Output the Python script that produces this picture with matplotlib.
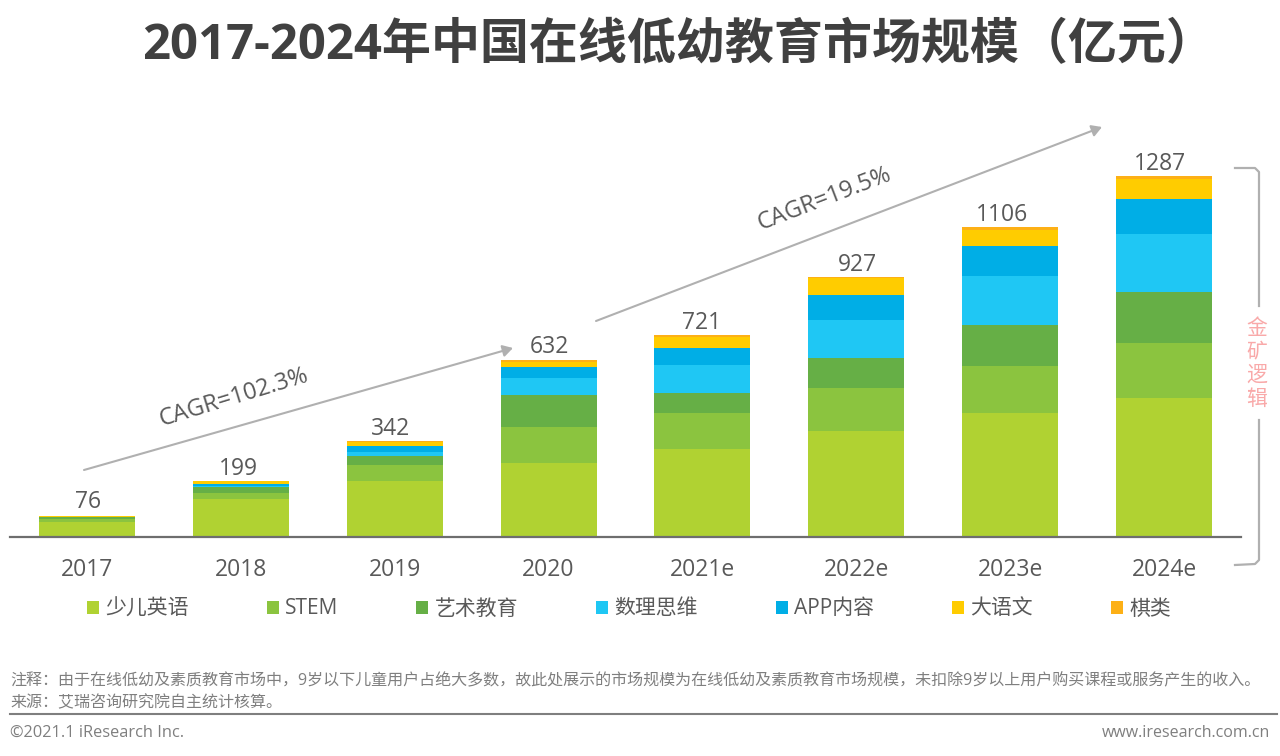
import matplotlib
matplotlib.use('Agg')
import matplotlib.pyplot as plt
import numpy as np

plt.rcParams['font.family'] = ['Open Sans', 'Noto Sans CJK SC', 'DejaVu Sans']

# Data (亿元)
years = ['2017', '2018', '2019', '2020', '2021e', '2022e', '2023e', '2024e']
totals = [76, 199, 342, 632, 721, 927, 1106, 1287]
english = [55, 135, 200, 264, 314, 378, 442, 496]
stem = [8, 22, 57, 128, 128, 153, 169, 196]
art = [8, 21, 32, 114, 71, 107, 145, 182]
math_think = [1, 5, 14, 61, 100, 135, 175, 207]
app = [1, 6, 21, 39, 62, 89, 105, 123]
chinese = [2, 9, 16, 18, 39, 61, 59, 73]
chess = [1, 1, 2, 8, 7, 4, 11, 10]

series = [english, stem, art, math_think, app, chinese, chess]
names = ['少儿英语', 'STEM', '艺术教育', '数理思维', 'APP内容', '大语文', '棋类']
colors = ['#B0D232', '#8BC43F', '#66AF46', '#1FC7F4', '#00AEE6', '#FFCC00', '#FDB016']

W, H = 1280, 756
GREY = '#595959'


def px(x, y):
    # picture pixels to figure fraction
    return x / W, 1 - y / H


fig = plt.figure(figsize=(12.8, 7.56), dpi=100)
ax = fig.add_axes([10 / W, (H - 537) / H, 1231 / W, 437 / H])

# Stacked bars
x = np.arange(len(years))
bottom = np.zeros(len(years))
for vals, name, col in zip(series, names, colors):
    ax.bar(x, vals, 0.624, bottom=bottom, color=col, label=name)
    bottom += np.array(vals)

# the total labels sit a little off centre in the original, offsets in pixels
label_dx = [1, -2, -4, 1, -1, 1, -8, -4]
label_dy = [1, 3, 3, 2, 3, 3, 3, 3]
for xi, total, dx, dy in zip(x, totals, label_dx, label_dy):
    ax.annotate(str(total), (xi, total), xytext=(dx * 0.72, (3 - dy) * 0.72), textcoords='offset points',
                ha='center', va='bottom', fontsize=16.5, color=GREY)

ax.set_xlim(-0.5, 7.5)
ax.set_ylim(0, 1558)
ax.set_xticks(x)
ax.set_xticklabels(years, fontsize=16.5, color=GREY)
ax.tick_params(axis='x', length=0, pad=15)
ax.set_yticks([])
for side in ['top', 'left', 'right']:
    ax.spines[side].set_visible(False)
ax.spines['bottom'].set_color('#6E6E6E')
ax.spines['bottom'].set_linewidth(1.6)
ax.patch.set_alpha(0)

# Legend
leg = fig.legend(loc='center', bbox_to_anchor=px(629, 609), ncol=7, frameon=False, fontsize=15,
                 handlelength=0.58, handleheight=0.58, handletextpad=0.3, columnspacing=3.74,
                 labelcolor=GREY)

# Title
fig.text(*px(679, 47), '2017-2024年中国在线低幼教育市场规模（亿元）', ha='center', va='center',
         fontsize=35.3, fontweight='bold', color='#404040')

# CAGR arrows
arrows = [((84, 470), (513, 348)), ((596, 321), (1102, 127))]
for start, end in arrows:
    fig.add_artist(matplotlib.patches.FancyArrowPatch(
        px(*start), px(*end), transform=fig.transFigure, arrowstyle='-|>,head_length=6,head_width=3.5',
        color='#B0B0B0', linewidth=1.5, shrinkA=0, shrinkB=0))
fig.text(*px(234, 398), 'CAGR=102.3%', rotation=17, ha='center', va='center', fontsize=17, color=GREY,
         rotation_mode='anchor')
fig.text(*px(824, 199), 'CAGR=19.5%', rotation=21, ha='center', va='center', fontsize=17, color=GREY,
         rotation_mode='anchor')

# Bracket on the right
bracket_top = [(1235, 168), (1255, 168), (1259, 172), (1259, 306)]
bracket_bottom = [(1259, 420), (1259, 560), (1255, 564), (1235, 565)]
for pts in [bracket_top, bracket_bottom]:
    xy = [px(*p) for p in pts]
    fig.add_artist(plt.Line2D([p[0] for p in xy], [p[1] for p in xy], color='#B0B0B0', linewidth=1.6))
for ch, y in zip('金矿逻辑', [328, 352, 375, 399]):
    fig.text(*px(1257, y), ch, ha='center', va='center', fontsize=15, color='#F9A9A9')

# Footer
fig.text(*px(10, 681), '注释：由于在线低幼及素质教育市场中，9岁以下儿童用户占绝大多数，故此处展示的市场规模为在线低幼及素质教育市场规模，未扣除9岁以上用户购买课程或服务产生的收入。',
         ha='left', va='center', fontsize=11.55, color='#7F7F7F')
fig.text(*px(10, 703), '来源：艾瑞咨询研究院自主统计核算。', ha='left', va='center', fontsize=11.55, color='#7F7F7F')
fig.add_artist(plt.Line2D([10 / W, 1277 / W], [1 - 714 / H, 1 - 714 / H], color='#7F7F7F', linewidth=1.5))
fig.text(*px(10, 733), '©2021.1 iResearch Inc.', ha='left', va='center', fontsize=11.8, color='#7F7F7F')
fig.text(*px(1270, 733), 'www.iresearch.com.cn', ha='right', va='center', fontsize=11.5, color='#7F7F7F')

fig.savefig('out.png', dpi=100)
